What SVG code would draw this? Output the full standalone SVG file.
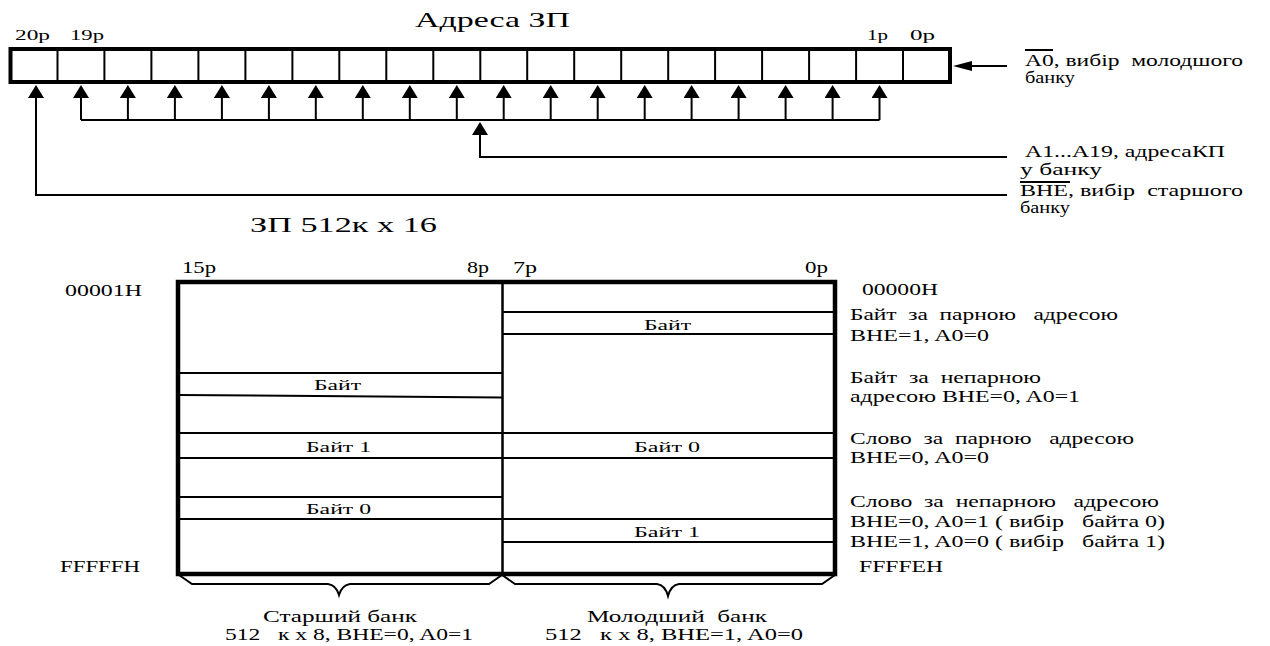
<svg xmlns="http://www.w3.org/2000/svg" width="1270" height="646" viewBox="0 0 1270 646" font-family="'Liberation Serif', 'Times New Roman', 'DejaVu Serif', serif">
<style>
text{font-family:'Liberation Serif','Times New Roman','DejaVu Serif',serif;fill:#000}
.t13{font-size:14px}
.t14{font-size:15px}
.t15{font-size:16px}
.t20{font-size:21px}
.thick{fill:none;stroke:#000;stroke-width:4}
.mid{fill:none;stroke:#000;stroke-width:2.5}
.thin{fill:none;stroke:#000;stroke-width:2}
.br{fill:none;stroke:#000;stroke-width:2;stroke-linejoin:miter}
</style>
<defs>
<marker id="up" viewBox="0 0 13 16" refX="0" refY="8" markerWidth="13" markerHeight="16" markerUnits="userSpaceOnUse" orient="auto"><path d="M0,0 L13,8 L0,16 z" fill="#000"/></marker>
<marker id="left" viewBox="0 0 19 10" refX="0" refY="5" markerWidth="19" markerHeight="10" markerUnits="userSpaceOnUse" orient="auto"><path d="M0,0 L19,5 L0,10 z" fill="#000"/></marker>
</defs>
<rect width="1270" height="646" fill="#fff"/>

<g id="title">
<text class="t20" x="415" y="27" textLength="155" lengthAdjust="spacingAndGlyphs">Адреса ЗП</text>
</g>

<g id="register">
<rect class="thick" x="10.5" y="49" width="939.5" height="33"/>
<path class="thin" d="M57.5,49V82M104.4,49V82M151.4,49V82M198.4,49V82M245.4,49V82M292.4,49V82M339.3,49V82M386.3,49V82M433.3,49V82M480.3,49V82M527.2,49V82M574.2,49V82M621.2,49V82M668.2,49V82M715.1,49V82M762.1,49V82M809.1,49V82M856.1,49V82M903,49V82"/>
<text class="t13" x="15" y="40" textLength="35" lengthAdjust="spacingAndGlyphs">20p</text>
<text class="t13" x="70" y="40" textLength="34" lengthAdjust="spacingAndGlyphs">19p</text>
<text class="t13" x="867" y="40" textLength="21" lengthAdjust="spacingAndGlyphs">1p</text>
<text class="t13" x="910" y="40" textLength="25" lengthAdjust="spacingAndGlyphs">0p</text>
</g>

<g id="connectors">
<path class="thin" d="M81,120H879.5"/>
<g class="thin" marker-end="url(#up)">
<path d="M81,120V98"/><path d="M127.9,120V98"/><path d="M174.9,120V98"/><path d="M221.9,120V98"/><path d="M268.9,120V98"/><path d="M315.8,120V98"/><path d="M362.8,120V98"/><path d="M409.8,120V98"/><path d="M456.8,120V98"/><path d="M503.7,120V98"/><path d="M550.7,120V98"/><path d="M597.7,120V98"/><path d="M644.7,120V98"/><path d="M691.6,120V98"/><path d="M738.6,120V98"/><path d="M785.6,120V98"/><path d="M832.6,120V98"/><path d="M879.5,120V98"/>
</g>
<path class="thin" d="M1007,157H480V135" marker-end="url(#up)"/>
<path class="thin" d="M1007,195H36V98" marker-end="url(#up)"/>
<path class="thin" d="M1007,66H972" marker-end="url(#left)"/>
</g>

<g id="label-a0">
<line class="thin" x1="1025" y1="50" x2="1053" y2="50" stroke-width="1.5"/>
<text class="t15" x="1025" y="66" textLength="218" lengthAdjust="spacingAndGlyphs" xml:space="preserve">A0, вибір  молодшого</text>
<text class="t15" x="1025" y="83" textLength="50" lengthAdjust="spacingAndGlyphs">банку</text>
</g>
<g id="label-a1">
<text class="t15" x="1025" y="157" textLength="200" lengthAdjust="spacingAndGlyphs">A1...A19, адресаКП</text>
<text class="t15" x="1020" y="175" textLength="82" lengthAdjust="spacingAndGlyphs">у банку</text>
</g>
<g id="label-bhe">
<line class="thin" x1="1020" y1="182" x2="1070" y2="182" stroke-width="1.5"/>
<text class="t15" x="1020" y="196" textLength="223" lengthAdjust="spacingAndGlyphs" xml:space="preserve">BHE, вибір  старшого</text>
<text class="t15" x="1020" y="213" textLength="50" lengthAdjust="spacingAndGlyphs">банку</text>
</g>

<g id="memory-title">
<text class="t20" x="250" y="232" textLength="187" lengthAdjust="spacingAndGlyphs">ЗП 512к x 16</text>
</g>

<g id="memory">
<path class="thin" d="M178,373H502M178,395L502,397.5M178,433H502M178,458H502M178,497H502M178,519H502"/>
<path class="thin" d="M502,312H835M502,334H835M502,433H835M502,458H835M502,519H835M502,542H835"/>
<line class="mid" x1="502.5" y1="282" x2="502.5" y2="574"/>
<rect x="178" y="282" width="657" height="292" fill="none" stroke="#000" stroke-width="4.5"/>
<text class="t15" x="182" y="273" textLength="34" lengthAdjust="spacingAndGlyphs">15p</text>
<text class="t15" x="467" y="273" textLength="22" lengthAdjust="spacingAndGlyphs">8p</text>
<text class="t15" x="513" y="273" textLength="24" lengthAdjust="spacingAndGlyphs">7p</text>
<text class="t15" x="805" y="273" textLength="23" lengthAdjust="spacingAndGlyphs">0p</text>
<text class="t14" x="314" y="390" textLength="47" lengthAdjust="spacingAndGlyphs">Байт</text>
<text class="t14" x="644" y="330" textLength="47" lengthAdjust="spacingAndGlyphs">Байт</text>
<text class="t14" x="306" y="452" textLength="65" lengthAdjust="spacingAndGlyphs">Байт 1</text>
<text class="t14" x="634" y="452" textLength="66" lengthAdjust="spacingAndGlyphs">Байт 0</text>
<text class="t14" x="306" y="514" textLength="65" lengthAdjust="spacingAndGlyphs">Байт 0</text>
<text class="t14" x="634" y="537" textLength="66" lengthAdjust="spacingAndGlyphs">Байт 1</text>
</g>

<g id="addresses">
<text class="t15" x="65" y="296" textLength="77" lengthAdjust="spacingAndGlyphs">00001H</text>
<text class="t15" x="60" y="572" textLength="80" lengthAdjust="spacingAndGlyphs">FFFFFH</text>
<text class="t15" x="862" y="295" textLength="76" lengthAdjust="spacingAndGlyphs">00000H</text>
<text class="t15" x="859" y="572" textLength="84" lengthAdjust="spacingAndGlyphs">FFFFEH</text>
</g>

<g id="descriptions">
<text class="t15" x="850" y="320" textLength="268" lengthAdjust="spacingAndGlyphs" xml:space="preserve">Байт  за  парною   адресою</text>
<text class="t15" x="850" y="341" textLength="139" lengthAdjust="spacingAndGlyphs">BHE=1, A0=0</text>
<text class="t15" x="850" y="383" textLength="191" lengthAdjust="spacingAndGlyphs" xml:space="preserve">Байт  за  непарною</text>
<text class="t15" x="850" y="402" textLength="230" lengthAdjust="spacingAndGlyphs">адресою BHE=0, A0=1</text>
<text class="t15" x="850" y="444" textLength="284" lengthAdjust="spacingAndGlyphs" xml:space="preserve">Слово  за  парною   адресою</text>
<text class="t15" x="850" y="463" textLength="139" lengthAdjust="spacingAndGlyphs">BHE=0, A0=0</text>
<text class="t15" x="850" y="507" textLength="309" lengthAdjust="spacingAndGlyphs" xml:space="preserve">Слово  за  непарною   адресою</text>
<text class="t15" x="850" y="527" textLength="315" lengthAdjust="spacingAndGlyphs" xml:space="preserve">BHE=0, A0=1 ( вибір   байта 0)</text>
<text class="t15" x="850" y="547" textLength="315" lengthAdjust="spacingAndGlyphs" xml:space="preserve">BHE=1, A0=0 ( вибір   байта 1)</text>
</g>

<g id="bank-high">
<path class="br" d="M179,575L192,584H328Q336,585 339,595Q342,585 350,584H489L502,575"/>
<text class="t15" x="263" y="622" textLength="154" lengthAdjust="spacingAndGlyphs">Старший банк</text>
<text class="t15" x="225" y="640" textLength="248" lengthAdjust="spacingAndGlyphs" xml:space="preserve">512   к x 8, BHE=0, A0=1</text>
</g>
<g id="bank-low">
<path class="br" d="M502,575L515,584H657Q665,585 668,596Q671,585 679,584H822L835,575"/>
<text class="t15" x="587" y="622" textLength="180" lengthAdjust="spacingAndGlyphs" xml:space="preserve">Молодший  банк</text>
<text class="t15" x="545" y="640" textLength="258" lengthAdjust="spacingAndGlyphs" xml:space="preserve">512   к x 8, BHE=1, A0=0</text>
</g>
</svg>
